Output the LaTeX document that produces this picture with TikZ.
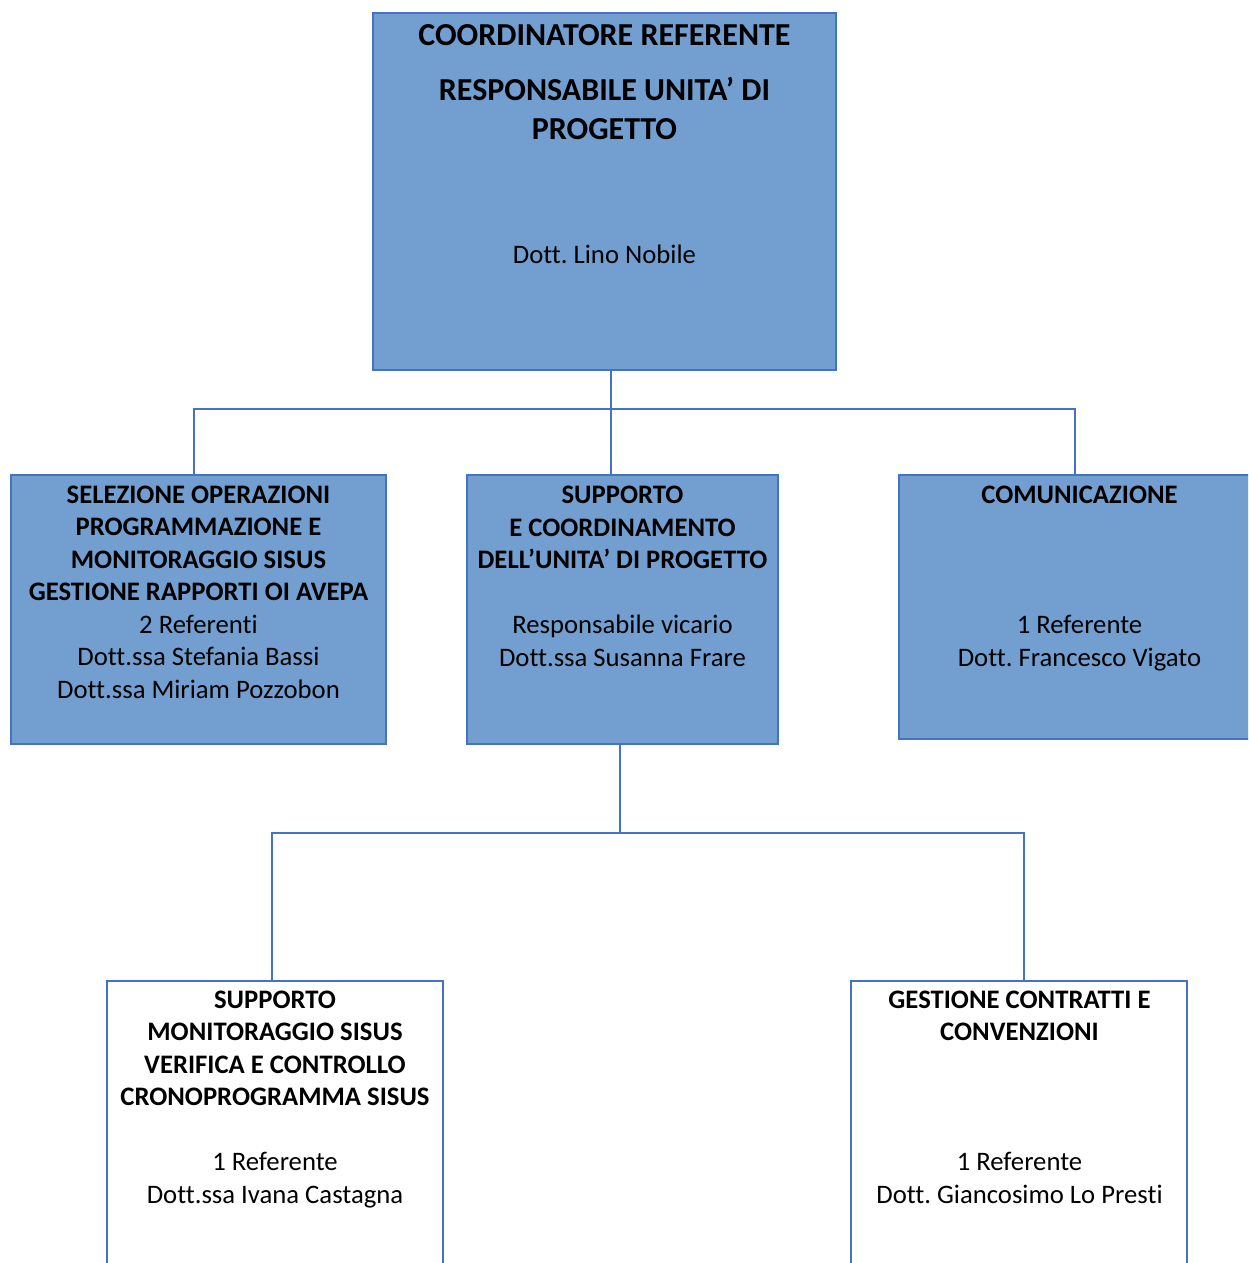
\documentclass[tikz,border=0pt]{standalone}
\usepackage{fontspec}
\setmainfont{Carlito}[Ligatures=NoCommon]
\frenchspacing
\usetikzlibrary{positioning}
\definecolor{unitfill}{RGB}{114,159,207}
\definecolor{unitline}{RGB}{68,114,196}
\tikzset{
  unit/.style={draw=unitline, line width=1.5pt, fill=unitfill, anchor=north west,
    inner sep=0pt, outer sep=0pt},
  subunit/.style={unit, fill=white},
  unittext/.style={align=center, anchor=base, inner sep=0pt,
    font=\fontsize{26.7}{32.5}\selectfont},
  titletext/.style={unittext, font=\fontsize{32}{38.5}\selectfont},
  link/.style={draw=unitline, line width=1.5pt}
}

\begin{document}
\begin{tikzpicture}[x=1pt,y=-1pt]
  % Page
  \useasboundingbox (0,0) rectangle (1248,1263);
  \clip (0,0) rectangle (1248,1263);
  %
  % Junctions
  \coordinate (hub) at (611,409);
  \coordinate (busL) at (194,409);
  \coordinate (busR) at (1075,409);
  \coordinate (hubB) at (620,833);
  \coordinate (busBL) at (272,833);
  \coordinate (busBR) at (1024,833);
  %
  % Units
  \node[unit, minimum width=463, minimum height=357] (coord) at (373,13) {};
  \node[unit, minimum width=375, minimum height=269] (sel) at (11,475) {};
  \node[unit, minimum width=311, minimum height=269] (supp) at (467,475) {};
  \node[unit, minimum width=361, minimum height=264] (com) at (899,475) {};
  \node[subunit, minimum width=336, minimum height=320] (ver) at (107,981) {};
  \node[subunit, minimum width=336, minimum height=320] (gest) at (851,981) {};
  %
  % Connectors
  \draw[link] (coord.south -| hub) -- (supp.north -| hub);
  \draw[link] (sel.north -| busL) -- (busL) -- (busR) -- (com.north -| busR);
  \draw[link] (supp.south -| hubB) -- (hubB);
  \draw[link] (ver.north -| busBL) -- (busBL) -- (busBR) -- (gest.north -| busBR);
  %
  % Texts (anchored at the last baseline)
  \node[titletext] (coordtitle) at (604.5,139) {\textbf{COORDINATORE REFERENTE}\\[16.5pt]
    \textbf{RESPONSABILE UNITA’ DI}\\\textbf{PROGETTO}};
  \node[unittext] (coordname) at (604.5,263) {Dott. Lino Nobile};
  \node[unittext] (seltext) at (198.5,698) {\textbf{SELEZIONE OPERAZIONI}\\
    \textbf{PROGRAMMAZIONE E}\\\textbf{MONITORAGGIO SISUS}\\
    \textbf{GESTIONE RAPPORTI OI AVEPA}\\2 Referenti\\
    Dott.ssa Stefania Bassi\\Dott.ssa Miriam Pozzobon};
  \node[unittext] (supptext) at (622.5,666) {\textbf{SUPPORTO}\\
    \textbf{E COORDINAMENTO}\\\textbf{DELL’UNITA’ DI PROGETTO}\\[32.5pt]
    Responsabile vicario\\Dott.ssa Susanna Frare};
  \node[unittext] (comtext) at (1079.5,666) {\textbf{COMUNICAZIONE}\\[97.5pt]
    1 Referente\\Dott. Francesco Vigato};
  \node[unittext] (vertext) at (275,1203) {\textbf{SUPPORTO}\\
    \textbf{MONITORAGGIO SISUS}\\\textbf{VERIFICA E CONTROLLO}\\
    \textbf{CRONOPROGRAMMA SISUS}\\[32.5pt]1 Referente\\Dott.ssa Ivana Castagna};
  \node[unittext] (gesttext) at (1019.5,1203) {\textbf{GESTIONE CONTRATTI E}\\
    \textbf{CONVENZIONI}\\[97.5pt]1 Referente\\Dott. Giancosimo Lo Presti};
  %
\end{tikzpicture}
\end{document}
